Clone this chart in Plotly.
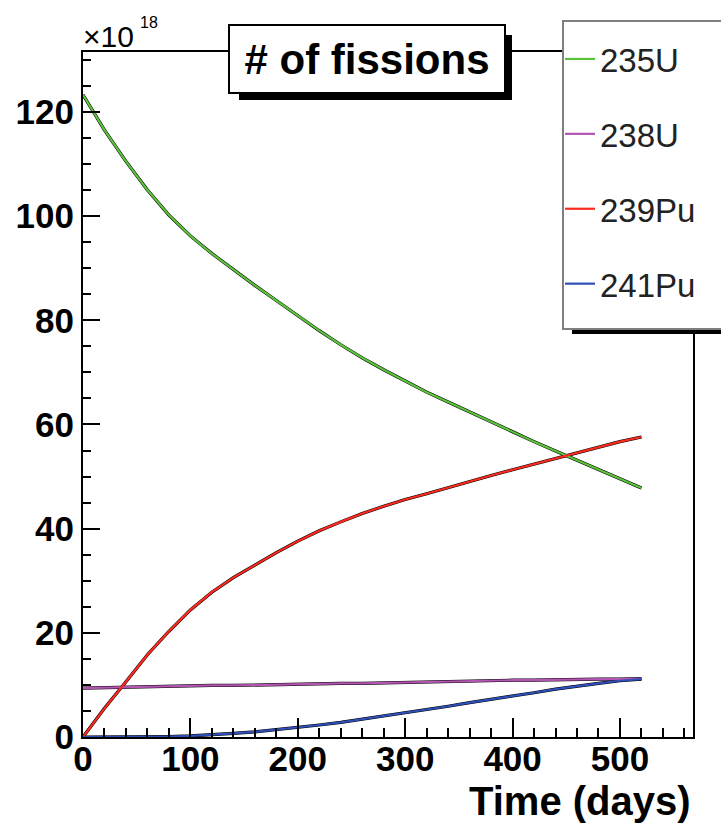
import plotly.graph_objects as go

# ---------------- data ----------------
days = [0, 20, 40, 60, 80, 100, 120, 140, 160, 180, 200, 220, 240, 260,
        280, 300, 320, 340, 360, 380, 400, 420, 440, 460, 480, 500, 520]

u235 = [123.3, 116.5, 110.5, 105.0, 100.2, 96.2, 92.8, 89.7, 86.7, 83.8,
        80.9, 78.0, 75.3, 72.8, 70.5, 68.3, 66.2, 64.3, 62.4, 60.4,
        58.5, 56.7, 54.9, 53.1, 51.4, 49.6, 47.8]

u238 = [9.4, 9.5, 9.6, 9.6, 9.7, 9.8, 9.9, 9.9, 10.0, 10.1,
        10.1, 10.2, 10.3, 10.3, 10.4, 10.5, 10.6, 10.6, 10.7, 10.8,
        10.9, 10.9, 11.0, 11.0, 11.1, 11.1, 11.2]

pu239 = [0.0, 5.5, 10.6, 15.8, 20.3, 24.4, 27.8, 30.6, 33.0, 35.4,
         37.6, 39.6, 41.3, 42.9, 44.3, 45.6, 46.7, 47.9, 49.1, 50.2,
         51.3, 52.4, 53.5, 54.6, 55.7, 56.7, 57.6]

pu241 = [0.0, 0.0, 0.0, 0.0, 0.1, 0.2, 0.4, 0.7, 1.0, 1.4,
         1.8, 2.3, 2.8, 3.4, 4.0, 4.6, 5.3, 5.9, 6.6, 7.2,
         7.9, 8.5, 9.2, 9.8, 10.3, 10.8, 11.1]

names = ["235U", "238U", "239Pu", "241Pu"]
colors = ["#5cc43c", "#b455b4", "#ff2a1f", "#2f4fb8"]
series = [u235, u238, pu239, pu241]

x_ticks = [0, 100, 200, 300, 400, 500]
y_ticks = [0, 20, 40, 60, 80, 100, 120]

# ---------------- geometry helpers ----------------
W, H = 721, 824
L, R, T, B = 83, 693, 52, 737


def pxx(p):
    return (p - L) / (R - L)


def pxy(p):
    return (B - p) / (B - T)


FONT = "Liberation Sans, Arial, Helvetica, sans-serif"

fig = go.Figure()

# black underlay (outline) lines
for vals in series:
    fig.add_trace(go.Scatter(x=days, y=vals, mode="lines",
                             line=dict(color="black", width=3.2),
                             showlegend=False, hoverinfo="skip"))

# coloured lines
for i, (nm, col, vals) in enumerate(zip(names, colors, series)):
    fig.add_trace(go.Scatter(x=days, y=vals, mode="lines", name=nm,
                             line=dict(color=col, width=2.2),
                             legendgroup=f"g{i}"))

axis_common = dict(showgrid=False, zeroline=False, showline=True,
                   linecolor="black", linewidth=2, mirror=True,
                   ticks="inside", tickcolor="black", tickwidth=2,
                   tickfont=dict(family=FONT, size=35, color="black",
                                 weight="bold"))

fig.update_xaxes(range=[0, 568], tickmode="array", tickvals=x_ticks,
                 ticktext=[str(v) for v in x_ticks], ticklen=19,
                 ticklabelstandoff=-10,
                 minor=dict(ticks="inside", ticklen=9, dtick=20, tick0=0,
                            tickcolor="black", tickwidth=2),
                 **axis_common)
fig.update_yaxes(range=[0, 131.5], tickmode="array", tickvals=y_ticks,
                 ticktext=[str(v) for v in y_ticks], ticklen=17,
                 minor=dict(ticks="inside", ticklen=8, dtick=5, tick0=0,
                            tickcolor="black", tickwidth=2),
                 **axis_common)

shapes = [
    # shadow of the title box
    dict(type="rect", xref="paper", yref="paper",
         x0=pxx(239), x1=pxx(512), y0=pxy(100), y1=pxy(35),
         fillcolor="black", line=dict(width=0), layer="above"),
    # shadow of the legend box
    dict(type="rect", xref="paper", yref="paper",
         x0=pxx(572), x1=pxx(770), y0=pxy(334), y1=pxy(28),
         fillcolor="black", line=dict(width=0), layer="above"),
    # legend box
    dict(type="rect", xref="paper", yref="paper",
         x0=pxx(563), x1=pxx(760), y0=pxy(329), y1=pxy(21),
         fillcolor="white", line=dict(width=2, color="#7f7f7f"),
         layer="above"),
]

annotations = [
    dict(text="# of fissions", xref="paper", yref="paper",
         x=pxx(367), y=pxy(59), xanchor="center", yanchor="middle",
         showarrow=False, bgcolor="white", bordercolor="black",
         borderwidth=2, borderpad=5,
         width=264, height=56,
         font=dict(family=FONT, size=42, color="black", weight="bold")),
    dict(text="Time (days)", xref="paper", yref="paper",
         x=pxx(693), y=pxy(825), xanchor="right", yanchor="bottom",
         showarrow=False,
         font=dict(family=FONT, size=40, color="black", weight="bold")),
    dict(text="×10", xref="paper", yref="paper",
         x=pxx(81), y=pxy(37), xanchor="left", yanchor="middle",
         showarrow=False,
         font=dict(family=FONT, size=30, color="black")),
    dict(text="18", xref="paper", yref="paper",
         x=pxx(138), y=pxy(23), xanchor="left", yanchor="middle",
         showarrow=False,
         font=dict(family=FONT, size=16, color="black")),
]

fig.update_layout(
    width=W, height=H,
    margin=dict(l=L, r=W - R, t=T, b=H - B, pad=0),
    paper_bgcolor="white", plot_bgcolor="white",
    shapes=shapes, annotations=annotations,
    legend=dict(x=pxx(560), y=pxy(18), xanchor="left", yanchor="top",
                bgcolor="rgba(0,0,0,0)", borderwidth=0,
                font=dict(family=FONT, size=33, color="#222222"),
                title=dict(text=" ", font=dict(size=10)),
                tracegroupgap=29, itemwidth=30,
                traceorder="grouped"),
    showlegend=True,
)

fig.write_html("out.html")
